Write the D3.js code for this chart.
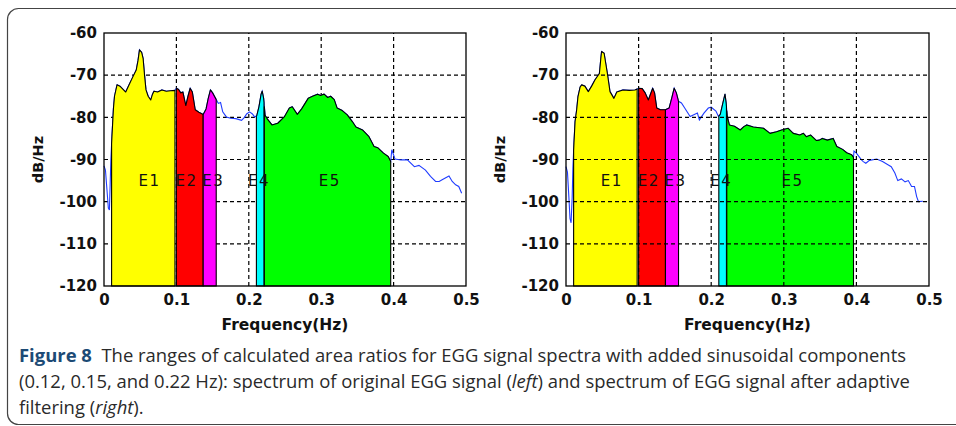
<!DOCTYPE html>
<html><head><meta charset="utf-8">
<script src="https://cdn.jsdelivr.net/npm/d3@7"></script>
<style>
html,body{margin:0;padding:0;background:#fff;}
#wrap{position:relative;width:956px;height:426px;overflow:hidden;}
svg{display:block;position:absolute;left:0;top:0;}
#caption{position:absolute;left:19px;top:342px;font-family:'Open Sans',sans-serif;font-size:18.5px;line-height:26px;color:#2a2a2a;transform-origin:0 0;white-space:nowrap;}
#caption .fig{font-weight:bold;color:#1c4a75;}
#caption span.ln{display:inline-block;}
</style></head>
<body>
<div id="wrap">
<svg id="chart" width="956" height="426"></svg>
<div id="caption"></div>
</div>
<script>
// ---- data ----
const xTicks = [0, 0.1, 0.2, 0.3, 0.4, 0.5];
const yTicks = [-60, -70, -80, -90, -100, -110, -120];
const bandNames = ["E1", "E2", "E3", "E4", "E5"];
const bandStart = [0.0105, 0.1, 0.137, 0.2105, 0.2215];
const bandEnd   = [0.098, 0.137, 0.155, 0.221, 0.396];
const bandColors = ["#ffff00", "#ff0000", "#ff00ff", "#00ffff", "#00ff00"];
const labelFreq = [0.063, 0.114, 0.151, 0.214, 0.312];
const labelDb = -95;

// original EGG spectrum (left)
const leftFreq = [0,0.002,0.004,0.006,0.0075,0.0085,0.0095,0.011,0.013,0.0145,0.018,0.022,0.026,0.030,0.034,0.039,0.0445,0.047,0.049,0.052,0.054,0.056,0.058,0.061,0.0645,0.067,0.069,0.074,0.08,0.086,0.092,0.098,0.1,0.103,0.106,0.109,0.113,0.116,0.119,0.122,0.126,0.131,0.137,0.141,0.144,0.147,0.15,0.155,0.158,0.161,0.164,0.169,0.175,0.182,0.19,0.194,0.197,0.201,0.205,0.208,0.211,0.214,0.217,0.2185,0.2205,0.2225,0.226,0.232,0.24,0.249,0.256,0.26,0.267,0.273,0.282,0.288,0.295,0.299,0.304,0.309,0.313,0.318,0.322,0.329,0.336,0.343,0.348,0.357,0.366,0.373,0.378,0.386,0.3925,0.396,0.3975,0.402,0.41,0.419,0.4287,0.435,0.444,0.451,0.458,0.463,0.467,0.4765,0.481,0.4857,0.49,0.494];
const leftDb = [-91.5,-92.5,-97,-101.5,-102,-96,-90,-84.5,-78,-75,-72.3,-72.6,-73.3,-74,-72.5,-70.7,-68.8,-66.5,-64,-64.6,-66,-70,-73.5,-75,-75.9,-74.5,-73.8,-74,-73.5,-73.8,-73.7,-73.6,-73.1,-73.4,-74.2,-74,-77.2,-75,-73.1,-74,-78.2,-78.8,-79.3,-78,-75.5,-73.5,-74.2,-75.8,-76.7,-76.5,-78.7,-79.9,-80.2,-80.3,-80.7,-80,-79.2,-78.7,-79.2,-79.9,-79.6,-77.5,-74.5,-73.8,-75.5,-79.5,-80.5,-81.8,-81.4,-79.9,-77.8,-77.5,-79.3,-78,-75.5,-75,-74.5,-74.8,-74.5,-75.3,-75,-75.8,-77.8,-78.4,-79.4,-81,-82.3,-83,-84.6,-86.9,-87.2,-88.5,-89.3,-90.5,-87.7,-89.9,-90.1,-90.1,-91.7,-91.4,-92.5,-94,-95.2,-95.2,-94.8,-93.9,-95.2,-96,-96.4,-98];

// spectrum after adaptive filtering (right)
const rightFreq = [0,0.002,0.004,0.0055,0.007,0.0085,0.0095,0.011,0.0125,0.0147,0.0165,0.0195,0.0216,0.026,0.0307,0.0353,0.04,0.046,0.048,0.049,0.0525,0.057,0.0606,0.066,0.07,0.0785,0.087,0.095,0.1,0.105,0.109,0.1134,0.1194,0.122,0.125,0.13,0.137,0.142,0.146,0.149,0.152,0.155,0.159,0.1635,0.171,0.176,0.181,0.1837,0.19,0.196,0.2,0.2065,0.21,0.2125,0.217,0.219,0.2205,0.2222,0.225,0.232,0.24,0.245,0.249,0.258,0.272,0.281,0.29,0.297,0.306,0.313,0.322,0.327,0.331,0.337,0.345,0.349,0.353,0.36,0.368,0.373,0.381,0.3866,0.3935,0.396,0.3967,0.4,0.407,0.4095,0.413,0.418,0.428,0.436,0.444,0.448,0.453,0.457,0.462,0.467,0.4715,0.476,0.48,0.483,0.4855,0.4915];
const rightDb = [-91.7,-93,-99,-104,-105,-99,-92,-86,-81,-78.2,-75.1,-72.8,-72.3,-72.6,-73.9,-72.6,-71.1,-69.6,-66,-64.4,-64.8,-69.6,-73.9,-75.5,-74,-73.5,-73.6,-73.5,-73.1,-73.2,-74.2,-75.9,-73.1,-74.2,-77.8,-78.2,-78.2,-77.8,-75.2,-73.1,-74.2,-76.2,-76.6,-77.8,-79.8,-79.4,-79,-80.6,-79,-77.8,-77.6,-78.5,-79.8,-79.3,-75.9,-74.5,-76.5,-79.8,-81.8,-82.1,-83,-82.2,-81.8,-82.3,-82.6,-83.8,-83.4,-83,-82.6,-83.8,-84.2,-83.8,-84.6,-84.2,-85.5,-85.4,-85,-85.4,-85,-86.9,-87.6,-88.4,-88.9,-89.5,-88,-88.5,-90.1,-90.5,-90.9,-90.2,-89.9,-90.5,-91.3,-91.7,-93.2,-95,-94.6,-95.3,-95,-96.4,-96.4,-98.8,-100,-99.9];

const captionLines = [
  [{t:"Figure 8", b:true}, {t:"\u00a0 The ranges of calculated area ratios for EGG signal spectra with added sinusoidal components"}],
  [{t:"(0.12, 0.15, and 0.22 Hz): spectrum of original EGG signal ("}, {t:"left", i:true}, {t:") and spectrum of EGG signal after adaptive"}],
  [{t:"filtering ("}, {t:"right", i:true}, {t:")."}]
];

// ---- drawing ----
const svg = d3.select("#chart");

// outer frame
svg.append("rect").attr("x", 7.5).attr("y", 8.5).attr("width", 1000).attr("height", 416)
  .attr("rx", 11).attr("ry", 11).attr("fill", "none").attr("stroke", "#444").attr("stroke-width", 1.2);

const Y0 = 33, Y1 = 286;
const AXFONT = "'DejaVu Sans', sans-serif";

function interp(freq, db, f) {
  const i = d3.bisectRight(freq, f);
  if (i <= 0) return db[0];
  if (i >= freq.length) return db[db.length - 1];
  const t = (f - freq[i-1]) / (freq[i] - freq[i-1]);
  return db[i-1] + t * (db[i] - db[i-1]);
}

function drawPanel(x0, x1, freq, db, gridOnTop) {
  const x = d3.scaleLinear().domain([0, 0.5]).range([x0, x1]);
  const y = d3.scaleLinear().domain([-120, -60]).range([Y1, Y0]);
  const g = svg.append("g");
  const pts = freq.map((f, i) => [f, db[i]]);

  function drawGrid() {
    const gg = g.append("g").attr("stroke", "#000").attr("stroke-width", 1.2)
      .attr("stroke-dasharray", "4,3").attr("fill", "none");
    xTicks.filter(v => v > 0 && v < 0.5).forEach(v => {
      gg.append("line").attr("x1", x(v)).attr("x2", x(v)).attr("y1", y(-120)).attr("y2", y(-60));
    });
    yTicks.filter(v => v > -120 && v < -60).forEach(v => {
      gg.append("line").attr("y1", y(v)).attr("y2", y(v)).attr("x1", x(0)).attr("x2", x(0.5));
    });
  }

  if (!gridOnTop) drawGrid();

  // blue spectrum line
  const line = d3.line().x(d => x(d[0])).y(d => y(d[1]));
  g.append("path").datum(pts).attr("d", line)
    .attr("fill", "none").attr("stroke", "#1f3cff").attr("stroke-width", 1.1);

  // band areas
  bandNames.forEach((name, k) => {
    const a = bandStart[k], b = bandEnd[k];
    const poly = [[a, -120], [a, interp(freq, db, a)]];
    pts.forEach(p => { if (p[0] > a && p[0] < b) poly.push(p); });
    poly.push([b, interp(freq, db, b)]);
    poly.push([b, -120]);
    g.append("path").datum(poly)
      .attr("d", d3.line().x(d => x(d[0])).y(d => y(d[1]))(poly) + "Z")
      .attr("fill", bandColors[k]).attr("stroke", "#000").attr("stroke-width", 1.1)
      .attr("stroke-linejoin", "round");
  });

  if (gridOnTop) drawGrid();

  // band labels
  bandNames.forEach((name, k) => {
    g.append("text").attr("x", x(labelFreq[k])).attr("y", y(labelDb))
      .attr("text-anchor", "middle").attr("dominant-baseline", "central")
      .attr("font-family", AXFONT).attr("font-size", 15).attr("letter-spacing", 1.5)
      .attr("fill", "#111").text(name);
  });

  // box
  g.append("rect").attr("x", x0).attr("y", Y0).attr("width", x1 - x0).attr("height", Y1 - Y0)
    .attr("fill", "none").attr("stroke", "#000").attr("stroke-width", 1.3);

  // axes
  const ax = g.append("g").attr("transform", `translate(0,${Y1})`)
    .call(d3.axisBottom(x).tickValues(xTicks).tickFormat(d => d === 0 ? "0" : d.toFixed(1)).tickSize(0).tickPadding(8));
  const ay = g.append("g").attr("transform", `translate(${x0},0)`)
    .call(d3.axisLeft(y).tickValues(yTicks).tickFormat(d => String(d)).tickSize(0).tickPadding(7));
  [ax, ay].forEach(a => {
    a.select(".domain").remove();
    a.selectAll("text").attr("font-family", AXFONT).attr("font-weight", "bold")
      .attr("font-size", 15).attr("fill", "#111");
  });
  ax.selectAll("text").attr("dy", "0.75em");

  g.append("text").attr("x", (x0 + x1) / 2).attr("y", 325).attr("text-anchor", "middle")
    .attr("dominant-baseline", "central")
    .attr("font-family", AXFONT).attr("font-weight", "bold").attr("font-size", 15.5)
    .attr("fill", "#111").text("Frequency(Hz)");
  g.append("text").attr("transform", `translate(${x0 - 66},${(Y0 + Y1) / 2}) rotate(-90)`)
    .attr("text-anchor", "middle").attr("dominant-baseline", "central")
    .attr("font-family", AXFONT).attr("font-weight", "bold").attr("font-size", 14.5)
    .attr("fill", "#111").text("dB/Hz");
}

drawPanel(104, 466, leftFreq, leftDb, false);
drawPanel(566, 929, rightFreq, rightDb, true);

// caption (HTML, condensed horizontally to the reference's line width)
const cap = d3.select("#caption");
captionLines.forEach(parts => {
  const ln = cap.append("div").append("span").attr("class", "ln");
  parts.forEach(p => {
    const s = ln.append("span").text(p.t);
    if (p.b) s.attr("class", "fig");
    if (p.i) s.style("font-style", "italic");
  });
});
const w0 = cap.select("span.ln").node().getBoundingClientRect().width;
cap.style("transform", `scaleX(${887 / w0})`);
</script>
</body></html>
